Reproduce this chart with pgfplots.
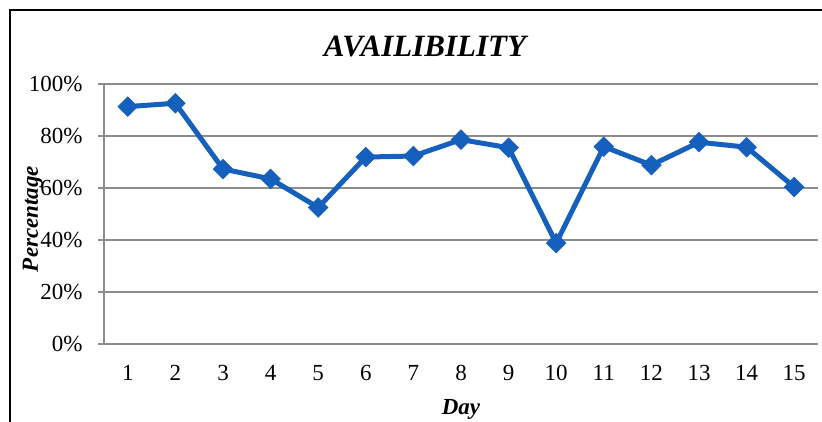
\documentclass[border=0pt]{standalone}
\usepackage{pgfplots}
\pgfplotsset{compat=1.18}
\usepackage{fontspec}
\setmainfont{Liberation Serif}
\definecolor{lineblue}{RGB}{21,96,189}
\definecolor{gridgray}{RGB}{140,140,140}
\begin{document}
\begin{tikzpicture}[x=1pt,y=1pt]
\useasboundingbox (0,0) rectangle (822,421);
\draw[black, line width=2pt] (10,-5) -- (10,411) -- (830,411);
\begin{axis}[
  at={(104pt,77pt)}, anchor=south west,
  scale only axis, width=714pt, height=260pt,
  xmin=0.5, xmax=15.5, ymin=0, ymax=100,
  axis x line*=bottom, axis y line*=left,
  axis line style={gridgray, line width=1.5pt, -},
  xtick={1,...,15},
  minor xtick={0.5,1.5,...,15.5},
  ytick={0,20,...,100},
  yticklabel={\pgfmathprintnumber{\tick}\%},
  /pgf/number format/assume math mode=true,
  tick align=outside,
  major tick length=6pt, minor tick length=6pt,
  xtick style={draw=none},
  minor x tick style={gridgray, line width=1.5pt},
  ytick style={gridgray, line width=1.5pt},
  ymajorgrids,
  grid style={gridgray, line width=2pt},
  ticklabel style={font=\fontsize{23}{27}\selectfont, black},
  xticklabel style={yshift=-12pt},
  yticklabel style={xshift=-12pt},
  clip=false,
]
\addplot[lineblue, line width=5pt, mark=square*, mark size=7pt,
  mark options={rotate=45, line width=0.5pt, fill=lineblue}]
coordinates {
(1,91.3) (2,92.6) (3,67.3) (4,63.5) (5,52.5) (6,71.9) (7,72.3) (8,78.6)
(9,75.5) (10,38.8) (11,75.9) (12,68.8) (13,77.6) (14,75.7) (15,60.4)
};
\end{axis}
\node[anchor=base, font=\fontsize{31}{36}\selectfont\bfseries\itshape] at (425,364) {AVAILIBILITY};
\node[anchor=base, font=\fontsize{23}{27}\selectfont\bfseries\itshape] at (461,7) {Day};
\node[anchor=base, rotate=90, font=\fontsize{23}{27}\selectfont\bfseries\itshape] at (38,202) {Percentage};
\end{tikzpicture}
\end{document}
